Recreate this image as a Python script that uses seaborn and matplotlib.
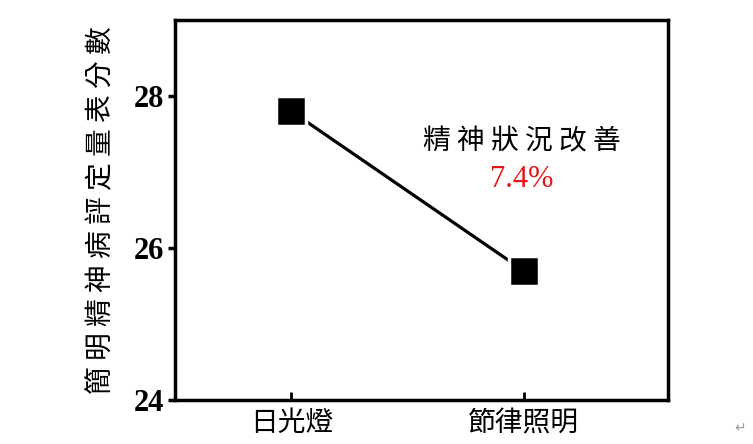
import matplotlib
matplotlib.use("Agg")
import matplotlib.pyplot as plt
import pandas as pd
import seaborn as sns

# 資料
categories = ["日光燈", "節律照明"]
scores = [27.8, 25.7]
improve_label = "精神狀況改善"
improve_pct = "7.4%"
y_label = "簡明精神病評定量表分數"
y_ticks = [24, 26, 28]

sns.set_theme(style="white")
plt.rcParams['font.family'] = ['Noto Sans CJK TC', 'DejaVu Sans']
plt.rcParams['text.color'] = "black"
plt.rcParams['axes.labelcolor'] = "black"
plt.rcParams['xtick.color'] = "black"
plt.rcParams['ytick.color'] = "black"

df = pd.DataFrame({"組別": categories, "分數": scores})

fig = plt.figure(figsize=(7.53, 4.44), dpi=100)
ax = fig.add_axes([0.2324, 0.099, 0.6547, 0.856])

sns.lineplot(data=df, x="組別", y="分數", ax=ax, color="black", linewidth=2.3,
             marker="s", markersize=22, markerfacecolor="black",
             markeredgecolor="white", markeredgewidth=2.5, sort=False)

ax.set_xlim(-0.5, 1.62)
ax.set_ylim(24, 29)
ax.set_yticks(y_ticks)
ax.set_yticklabels([str(t) for t in y_ticks], family="Liberation Serif",
                   fontweight="bold", fontsize=22)
ax.set_xticks(range(len(categories)))
ax.set_xticklabels(categories, fontsize=20)
ax.tick_params(axis="y", direction="out", length=5, width=2.5, left=True, pad=3,
               colors="black")
ax.tick_params(axis="x", direction="in", length=6, width=2, bottom=True, pad=6,
               colors="black")

for side in ["left", "right", "top", "bottom"]:
    ax.spines[side].set_visible(True)
    ax.spines[side].set_color("black")
    ax.spines[side].set_linewidth(2.5)

ax.set_xlabel("")
ax.set_ylabel(" ".join(y_label), fontsize=20, labelpad=12, color="black")

ax.text(0.99, 27.4, " ".join(improve_label), fontsize=20, ha="center", va="center",
        color="black")
ax.text(0.99, 26.9, improve_pct, fontsize=22, ha="center", va="center", color="#e8141b",
        family="Liberation Serif")

fig.text(0.99, 0.02, "↵", fontsize=10, color="#999999", ha="right", va="bottom",
         family="DejaVu Sans")

fig.savefig("out.png", dpi=100)
plt.close(fig)
